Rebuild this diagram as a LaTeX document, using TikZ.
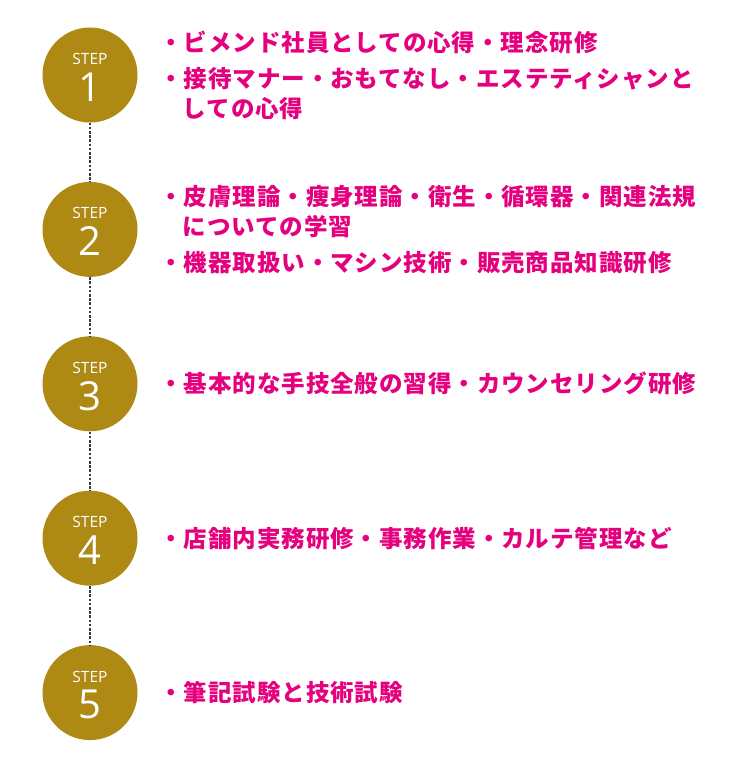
\documentclass[tikz,border=0pt]{standalone}
\usepackage{fontspec}
\setsansfont{Open Sans}
\newfontfamily\jpfont[LetterSpace=4]{Noto Sans CJK JP}
\usetikzlibrary{positioning}
\definecolor{stepgold}{HTML}{AE8914}
\definecolor{itempink}{HTML}{E5007E}
\definecolor{dotgray}{HTML}{3C3C3C}

\begin{document}
\begin{tikzpicture} [
    x=1pt, y=-1pt,
    node distance=59pt and 21.5pt,
    stepcircle/.style={circle, fill=stepgold, minimum size=95pt, inner sep=0pt},
    steptag/.style={text=white, font=\sffamily\fontsize{15.5}{15.5}\selectfont, inner sep=0pt},
    stepnum/.style={text=white, font=\sffamily\fontsize{40}{40}\selectfont, inner sep=0pt},
    items/.style={text=itempink, align=left, inner sep=0pt, font=\jpfont\bfseries\fontsize{23.5}{30}\selectfont},
    dotline/.style={draw=dotgray, line width=2.8pt, dash pattern=on 2.6pt off 1.6pt}
]
    \useasboundingbox (0,0) rectangle (750,775);

    % Steps
    \node[stepcircle] (s1) at (90,75) {};
    \node[stepcircle, below=of s1] (s2) {};
    \node[stepcircle, below=of s2] (s3) {};
    \node[stepcircle, below=of s3] (s4) {};
    \node[stepcircle, below=of s4] (s5) {};

    \node[steptag] (s1tag) at ([yshift=16pt]s1.center) {STEP};
    \node[stepnum] (s1num) at ([yshift=-12pt]s1.center) {1};
    \node[steptag] (s2tag) at ([yshift=16pt]s2.center) {STEP};
    \node[stepnum] (s2num) at ([yshift=-12pt]s2.center) {2};
    \node[steptag] (s3tag) at ([yshift=16pt]s3.center) {STEP};
    \node[stepnum] (s3num) at ([yshift=-12pt]s3.center) {3};
    \node[steptag] (s4tag) at ([yshift=16pt]s4.center) {STEP};
    \node[stepnum] (s4num) at ([yshift=-12pt]s4.center) {4};
    \node[steptag] (s5tag) at ([yshift=16pt]s5.center) {STEP};
    \node[stepnum] (s5num) at ([yshift=-12pt]s5.center) {5};

    % Dotted links
    \path [dotline] (s1) -- (s2);
    \path [dotline] (s2) -- (s3);
    \path [dotline] (s3) -- (s4);
    \path [dotline] (s4) -- (s5);

    % Contents
    \node[items, right=of s1] (t1) {・ビメンド社員としての心得・理念研修\\[6pt]
        ・接待マナー・おもてなし・エステティシャンと\\
        \phantom{・}しての心得};
    \node[items, right=of s2] (t2) {・皮膚理論・痩身理論・衛生・循環器・関連法規\\
        \phantom{・}についての学習\\[6pt]
        ・機器取扱い・マシン技術・販売商品知識研修};
    \node[items, right=of s3] (t3) {・基本的な手技全般の習得・カウンセリング研修};
    \node[items, right=of s4] (t4) {・店舗内実務研修・事務作業・カルテ管理など};
    \node[items, right=of s5] (t5) {・筆記試験と技術試験};

\end{tikzpicture}
\end{document}
